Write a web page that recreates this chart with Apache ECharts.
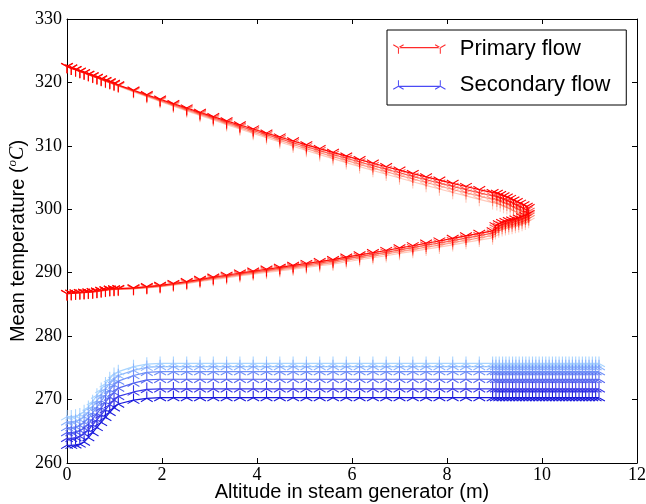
<!DOCTYPE html>
<html><head><meta charset="utf-8">
<script src="https://cdn.jsdelivr.net/npm/echarts@6/dist/echarts.min.js"></script>
<style>html,body{margin:0;padding:0;background:#fff}#chart{width:646px;height:504px}</style>
</head><body><div id="chart"></div>
<script>
// ---------- DATA ----------
const seriesNames = ['Primary flow', 'Secondary flow'];

// Primary flow: path up the hot leg, round the tip, back down the cold leg (altitude in m)
const primaryAltitude = [
  0, 0.09, 0.18, 0.27, 0.36, 0.45, 0.54, 0.63, 0.72, 0.81, 0.9, 0.99, 1.08,
  1.4, 1.68, 1.96, 2.24, 2.52, 2.8, 3.08, 3.36, 3.64, 3.92, 4.2, 4.48, 4.76, 5.04, 5.32, 5.6, 5.88, 6.16, 6.44, 6.72, 7.0, 7.28, 7.56, 7.84, 8.12, 8.4, 8.68, 8.96,
  9.05, 9.12, 9.19, 9.26, 9.33, 9.4, 9.47, 9.54, 9.61, 9.68, 9.72,
  9.72, 9.65, 9.58, 9.51, 9.44, 9.37, 9.3, 9.23, 9.16, 9.09, 9.02,
  8.96, 8.68, 8.4, 8.12, 7.84, 7.56, 7.28, 7.0, 6.72, 6.44, 6.16, 5.88, 5.6, 5.32, 5.04, 4.76, 4.48, 4.2, 3.92, 3.64, 3.36, 3.08, 2.8, 2.52, 2.24, 1.96, 1.68, 1.4,
  1.08, 0.99, 0.9, 0.81, 0.72, 0.63, 0.54, 0.45, 0.36, 0.27, 0.18, 0.09, 0
];
const primaryTemp1 = [
  322.5, 322.25, 322.0, 321.76, 321.52, 321.28, 321.04, 320.8, 320.55, 320.3, 320.08, 319.84, 319.6,
  318.77, 318.06, 317.35, 316.65, 315.96, 315.28, 314.61, 313.94, 313.29, 312.65, 312.01, 311.39, 310.77, 310.16, 309.56, 308.97, 308.39, 307.82, 307.26, 306.71, 306.17, 305.63, 305.11, 304.59, 304.08, 303.59, 303.1, 302.62,
  302.5, 302.3, 302.1, 301.9, 301.7, 301.45, 301.2, 300.95, 300.7, 300.45, 300.25,
  299.3, 299.0, 298.8, 298.6, 298.45, 298.3, 298.2, 298.05, 297.9, 297.7, 297.4,
  296.6, 296.2, 295.8, 295.4, 295.0, 294.65, 294.25, 293.9, 293.5, 293.15, 292.8, 292.45, 292.05, 291.75, 291.45, 291.15, 290.85, 290.55, 290.25, 289.95, 289.6, 289.3, 288.95, 288.6, 288.3, 288.0, 287.8, 287.6,
  287.5, 287.45, 287.4, 287.3, 287.2, 287.1, 287.0, 286.95, 286.9, 286.85, 286.8, 286.75, 286.7
];
const primaryTemp2 = [
  322.5, 322.24, 321.99, 321.74, 321.5, 321.25, 321.01, 320.76, 320.51, 320.25, 320.03, 319.78, 319.54,
  318.69, 317.96, 317.23, 316.52, 315.81, 315.12, 314.43, 313.74, 313.08, 312.42, 311.76, 311.13, 310.49, 309.86, 309.25, 308.64, 308.04, 307.46, 306.88, 306.31, 305.76, 305.2, 304.66, 304.13, 303.6, 303.1, 302.59, 302.09,
  301.96, 301.76, 301.55, 301.35, 301.15, 300.89, 300.64, 300.38, 300.13, 299.88, 299.68,
  298.9, 298.6, 298.41, 298.21, 298.06, 297.92, 297.82, 297.67, 297.52, 297.33, 297.03,
  296.23, 295.84, 295.46, 295.07, 294.68, 294.34, 293.95, 293.61, 293.22, 292.89, 292.55, 292.21, 291.82, 291.53, 291.24, 290.95, 290.67, 290.38, 290.09, 289.8, 289.46, 289.17, 288.84, 288.5, 288.21, 287.92, 287.73, 287.54,
  287.46, 287.41, 287.36, 287.27, 287.17, 287.07, 286.98, 286.93, 286.89, 286.84, 286.79, 286.75, 286.7
];
const primaryTemp3 = [
  322.5, 322.24, 321.98, 321.73, 321.48, 321.23, 320.98, 320.73, 320.47, 320.2, 319.97, 319.72, 319.47,
  318.61, 317.86, 317.12, 316.39, 315.66, 314.95, 314.25, 313.54, 312.86, 312.19, 311.52, 310.86, 310.21, 309.57, 308.93, 308.31, 307.7, 307.09, 306.5, 305.92, 305.35, 304.77, 304.22, 303.67, 303.12, 302.6, 302.08, 301.56,
  301.43, 301.22, 301.01, 300.8, 300.59, 300.33, 300.07, 299.8, 299.54, 299.28, 299.11,
  298.5, 298.21, 298.01, 297.82, 297.68, 297.53, 297.44, 297.29, 297.15, 296.95, 296.66,
  295.87, 295.49, 295.11, 294.73, 294.36, 294.03, 293.65, 293.33, 292.95, 292.62, 292.29, 291.97, 291.59, 291.31, 291.04, 290.76, 290.48, 290.21, 289.93, 289.65, 289.32, 289.05, 288.72, 288.39, 288.12, 287.84, 287.66, 287.49,
  287.41, 287.37, 287.33, 287.23, 287.14, 287.05, 286.96, 286.91, 286.87, 286.83, 286.79, 286.74, 286.7
];
const primaryTemp4 = [
  322.5, 322.23, 321.97, 321.71, 321.46, 321.2, 320.95, 320.69, 320.42, 320.16, 319.92, 319.67, 319.41,
  318.52, 317.76, 317.0, 316.25, 315.51, 314.79, 314.07, 313.35, 312.65, 311.96, 311.27, 310.6, 309.93, 309.27, 308.62, 307.98, 307.35, 306.73, 306.12, 305.52, 304.93, 304.34, 303.77, 303.2, 302.65, 302.11, 301.57, 301.04,
  300.9, 300.68, 300.46, 300.24, 300.02, 299.75, 299.48, 299.21, 298.94, 298.67, 298.53,
  298.1, 297.81, 297.62, 297.43, 297.29, 297.15, 297.06, 296.92, 296.78, 296.58, 296.29,
  295.5, 295.13, 294.77, 294.4, 294.04, 293.72, 293.35, 293.04, 292.67, 292.36, 292.04, 291.73, 291.36, 291.1, 290.83, 290.56, 290.3, 290.03, 289.77, 289.5, 289.19, 288.92, 288.61, 288.29, 288.02, 287.76, 287.59, 287.43,
  287.37, 287.33, 287.29, 287.2, 287.11, 287.02, 286.94, 286.9, 286.86, 286.82, 286.78, 286.74, 286.7
];

// Secondary flow (altitude in m)
const secondaryAltitude = [
  0, 0.09, 0.18, 0.27, 0.36, 0.45, 0.54, 0.63, 0.72, 0.81, 0.9, 0.99, 1.08,
  1.4, 1.68, 1.96, 2.24, 2.52, 2.8, 3.08, 3.36, 3.64, 3.92, 4.2, 4.48, 4.76, 5.04, 5.32, 5.6, 5.88, 6.16, 6.44, 6.72, 7.0, 7.28, 7.56, 7.84, 8.12, 8.4, 8.68, 8.96,
  9.03, 9.1, 9.17, 9.24, 9.31, 9.38, 9.45, 9.52, 9.59, 9.66, 9.73, 9.8, 9.87, 9.94, 10.01, 10.08,
  10.15, 10.22, 10.29, 10.36, 10.43, 10.5, 10.57, 10.64, 10.71, 10.78, 10.85, 10.92, 10.99, 11.06, 11.13, 11.2
];
const secondaryTemp1 = [
  262.8, 262.8, 262.85, 263.0, 263.3, 264.0, 264.8, 265.6, 266.4, 267.2, 268.0, 268.7, 269.3,
  269.9, 270.2, 270.3, 270.3, 270.3, 270.3, 270.3, 270.3, 270.3, 270.3, 270.3, 270.3, 270.3, 270.3, 270.3, 270.3, 270.3, 270.3, 270.3, 270.3, 270.3, 270.3, 270.3, 270.3, 270.3, 270.3, 270.3, 270.3,
  270.3, 270.3, 270.3, 270.3, 270.3, 270.3, 270.3, 270.3, 270.3, 270.3, 270.3, 270.3, 270.3, 270.3, 270.3, 270.3,
  270.3, 270.3, 270.3, 270.3, 270.3, 270.3, 270.3, 270.3, 270.3, 270.3, 270.3, 270.3, 270.3, 270.3, 270.3, 270.3
];
const secondaryTemp2 = [
  263.9, 263.9, 264.0, 264.2, 264.6, 265.2, 266.0, 266.8, 267.6, 268.4, 269.2, 269.9, 270.5,
  271.2, 271.6, 271.7, 271.7, 271.7, 271.7, 271.7, 271.7, 271.7, 271.7, 271.7, 271.7, 271.7, 271.7, 271.7, 271.7, 271.7, 271.7, 271.7, 271.7, 271.7, 271.7, 271.7, 271.7, 271.7, 271.7, 271.7, 271.7,
  271.7, 271.7, 271.7, 271.7, 271.7, 271.7, 271.7, 271.7, 271.7, 271.7, 271.7, 271.7, 271.7, 271.7, 271.7, 271.7,
  271.7, 271.7, 271.7, 271.7, 271.7, 271.7, 271.7, 271.7, 271.7, 271.7, 271.7, 271.7, 271.7, 271.7, 271.7, 271.7
];
const secondaryTemp3 = [
  264.8, 264.8, 264.9, 265.1, 265.5, 266.1, 266.9, 267.8, 268.7, 269.6, 270.4, 271.1, 271.8,
  272.6, 273.1, 273.2, 273.2, 273.2, 273.2, 273.2, 273.2, 273.2, 273.2, 273.2, 273.2, 273.2, 273.2, 273.2, 273.2, 273.2, 273.2, 273.2, 273.2, 273.2, 273.2, 273.2, 273.2, 273.2, 273.2, 273.2, 273.2,
  273.2, 273.2, 273.2, 273.2, 273.2, 273.2, 273.2, 273.2, 273.2, 273.2, 273.2, 273.2, 273.2, 273.2, 273.2, 273.2,
  273.2, 273.2, 273.2, 273.2, 273.2, 273.2, 273.2, 273.2, 273.2, 273.2, 273.2, 273.2, 273.2, 273.2, 273.2, 273.2
];
const secondaryTemp4 = [
  265.6, 265.6, 265.7, 265.9, 266.4, 267.0, 267.9, 268.8, 269.8, 270.7, 271.5, 272.3, 272.9,
  273.8, 274.3, 274.4, 274.4, 274.4, 274.4, 274.4, 274.4, 274.4, 274.4, 274.4, 274.4, 274.4, 274.4, 274.4, 274.4, 274.4, 274.4, 274.4, 274.4, 274.4, 274.4, 274.4, 274.4, 274.4, 274.4, 274.4, 274.4,
  274.4, 274.4, 274.4, 274.4, 274.4, 274.4, 274.4, 274.4, 274.4, 274.4, 274.4, 274.4, 274.4, 274.4, 274.4, 274.4,
  274.4, 274.4, 274.4, 274.4, 274.4, 274.4, 274.4, 274.4, 274.4, 274.4, 274.4, 274.4, 274.4, 274.4, 274.4, 274.4
];
const secondaryTemp5 = [
  266.5, 266.5, 266.6, 266.8, 267.3, 268.0, 268.9, 269.8, 270.8, 271.7, 272.5, 273.2, 273.8,
  274.6, 275.1, 275.2, 275.2, 275.2, 275.2, 275.2, 275.2, 275.2, 275.2, 275.2, 275.2, 275.2, 275.2, 275.2, 275.2, 275.2, 275.2, 275.2, 275.2, 275.2, 275.2, 275.2, 275.2, 275.2, 275.2, 275.2, 275.2,
  275.2, 275.2, 275.2, 275.2, 275.2, 275.2, 275.2, 275.2, 275.2, 275.2, 275.2, 275.2, 275.2, 275.2, 275.2, 275.2,
  275.2, 275.2, 275.2, 275.2, 275.2, 275.2, 275.2, 275.2, 275.2, 275.2, 275.2, 275.2, 275.2, 275.2, 275.2, 275.2
];
const secondaryTemp6 = [
  267.3, 267.3, 267.4, 267.6, 268.1, 268.8, 269.7, 270.7, 271.6, 272.5, 273.3, 274.0, 274.4,
  275.2, 275.6, 275.7, 275.7, 275.7, 275.7, 275.7, 275.7, 275.7, 275.7, 275.7, 275.7, 275.7, 275.7, 275.7, 275.7, 275.7, 275.7, 275.7, 275.7, 275.7, 275.7, 275.7, 275.7, 275.7, 275.7, 275.7, 275.7,
  275.7, 275.7, 275.7, 275.7, 275.7, 275.7, 275.7, 275.7, 275.7, 275.7, 275.7, 275.7, 275.7, 275.7, 275.7, 275.7,
  275.7, 275.7, 275.7, 275.7, 275.7, 275.7, 275.7, 275.7, 275.7, 275.7, 275.7, 275.7, 275.7, 275.7, 275.7, 275.7
];

// ---------- STYLE ----------
const TRI_DOWN = 'path://M-0.8,0L0.8,0L0.8,10L-0.8,10Z M0.4,-0.69L-8.26,-5.69L-9.06,-4.31L-0.4,0.69Z M0.4,0.69L9.06,-4.31L8.26,-5.69L-0.4,-0.69Z';
const TRI_UP = 'path://M-0.8,0L0.8,0L0.8,-10L-0.8,-10Z M0.4,0.69L-8.26,5.69L-9.06,4.31L-0.4,-0.69Z M0.4,-0.69L9.06,4.31L8.26,5.69L-0.4,0.69Z';
const MK = 0.68;
const SYM_SIZE = [18.12 * MK, 15.69 * MK];
const SYM_OFF = 2.155 * MK;

const LEG_DOWN = 'path://M0,-0.6L42,-0.6L42,0.6L0,0.6Z ' +
  'M-0.5,0L0.5,0L0.5,6L-0.5,6Z M0.25,-0.43L-4.95,-3.43L-5.45,-2.57L-0.25,0.43Z M0.25,0.43L5.45,-2.57L4.95,-3.43L-0.25,-0.43Z ' +
  'M41.5,0L42.5,0L42.5,6L41.5,6Z M42.25,-0.43L37.05,-3.43L36.55,-2.57L41.75,0.43Z M42.25,0.43L47.45,-2.57L46.95,-3.43L41.75,-0.43Z';
const LEG_UP = 'path://M0,-0.6L42,-0.6L42,0.6L0,0.6Z ' +
  'M-0.5,0L0.5,0L0.5,-6L-0.5,-6Z M0.25,0.43L-4.95,3.43L-5.45,2.57L-0.25,-0.43Z M0.25,-0.43L5.45,2.57L4.95,3.43L-0.25,0.43Z ' +
  'M41.5,0L42.5,0L42.5,-6L41.5,-6Z M42.25,0.43L37.05,3.43L36.55,2.57L41.75,-0.43Z M42.25,-0.43L47.45,2.57L46.95,3.43L41.75,0.43Z';

const primarySets = [
  [primaryTemp4, 'rgba(255,100,60,0.35)'],
  [primaryTemp3, 'rgba(255,60,30,0.5)'],
  [primaryTemp2, 'rgba(255,20,10,0.7)'],
  [primaryTemp1, 'rgba(255,0,0,1)']
];
const secondarySets = [
  [secondaryTemp6, '#a8d4ff'],
  [secondaryTemp5, '#8cb4fc'],
  [secondaryTemp4, '#6f90f8'],
  [secondaryTemp3, '#5566f0'],
  [secondaryTemp2, '#3838e8'],
  [secondaryTemp1, '#1a1adc']
];

function pairs(xs, ys) { return xs.map((x, i) => [x, ys[i]]); }
function mk(name, xs, ys, color, sym, off) {
  return {
    type: 'line', name: name, data: pairs(xs, ys),
    symbol: sym, symbolSize: SYM_SIZE, symbolOffset: [0, off], showAllSymbol: true,
    lineStyle: { color: color, width: 1.2 },
    itemStyle: { color: color, borderWidth: 0 },
    emphasis: { disabled: true }, silent: true, animation: false
  };
}
const series = [];
primarySets.forEach(s => series.push(mk(seriesNames[0], primaryAltitude, s[0], s[1], TRI_DOWN, SYM_OFF)));
secondarySets.forEach(s => series.push(mk(seriesNames[1], secondaryAltitude, s[0], s[1], TRI_UP, -SYM_OFF)));

const axisCommon = {
  axisLine: { onZero: false, lineStyle: { color: '#000', width: 1 } },
  axisTick: { inside: true, length: 5, lineStyle: { color: '#000', width: 1 } },
  splitLine: { show: false }
};
const serifLabel = { fontFamily: 'Liberation Serif', fontSize: 18, color: '#000' };

const chart = echarts.init(document.getElementById('chart'), null, { renderer: 'canvas' });
chart.setOption({
  animation: false,
  backgroundColor: '#fff',
  grid: { left: 67, right: 9, top: 19, bottom: 41, containLabel: false, outerBoundsMode: 'none' },
  legend: {
    orient: 'vertical', left: 387, top: 30,
    padding: [6, 16, 7, 6], itemGap: 10, itemWidth: 53, itemHeight: 9.4,
    borderColor: '#000', borderWidth: 1, borderRadius: 0, backgroundColor: '#fff',
    selectedMode: false,
    textStyle: { fontFamily: 'Liberation Sans', fontSize: 22, color: '#000', lineHeight: 26, padding: [0, 0, 0, 9] },
    data: [
      { name: seriesNames[0], icon: LEG_DOWN, itemStyle: { color: '#ff2a2a', borderWidth: 0 } },
      { name: seriesNames[1], icon: LEG_UP, itemStyle: { color: '#4a4af5', borderWidth: 0 } }
    ]
  },
  xAxis: [
    Object.assign({
      type: 'value', min: 0, max: 12, interval: 2, position: 'bottom',
      name: 'Altitude in steam generator (m)', nameLocation: 'middle', nameGap: 19, nameMoveOverlap: false,
      nameTextStyle: { fontFamily: 'Liberation Sans', fontSize: 20, color: '#000' },
      axisLabel: Object.assign({ margin: 3, showMinLabel: true, showMaxLabel: true }, serifLabel)
    }, axisCommon),
    Object.assign({ type: 'value', min: 0, max: 12, interval: 2, position: 'top', axisLabel: { show: false } }, axisCommon)
  ],
  yAxis: [
    Object.assign({
      type: 'value', min: 260, max: 330, interval: 10, position: 'left',
      name: 'Mean temperature ({sup|o}{it|C})', nameLocation: 'middle', nameGap: 37, nameRotate: 90, nameMoveOverlap: false,
      nameTextStyle: {
        fontFamily: 'Liberation Sans', fontSize: 20, color: '#000', lineHeight: 24,
        rich: {
          sup: { fontFamily: 'Liberation Serif', fontStyle: 'italic', fontSize: 13, color: '#000', lineHeight: 13, verticalAlign: 'top' },
          it: { fontFamily: 'Liberation Serif', fontStyle: 'italic', fontSize: 20, color: '#000', lineHeight: 24 }
        }
      },
      axisLabel: Object.assign({ margin: 5, showMinLabel: true, showMaxLabel: true }, serifLabel)
    }, axisCommon),
    Object.assign({ type: 'value', min: 260, max: 330, interval: 10, position: 'right', axisLabel: { show: false } }, axisCommon)
  ],
  series: series
});
</script>
</body></html>
